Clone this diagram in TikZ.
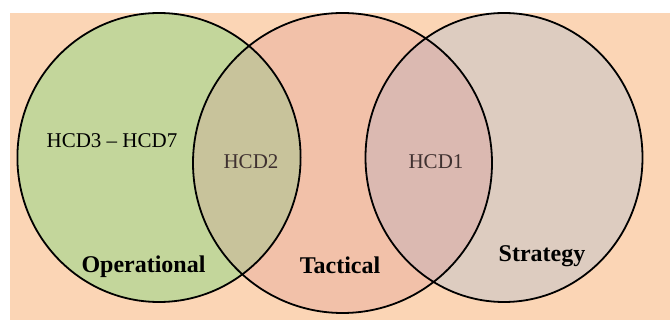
\documentclass[tikz,border=0pt]{standalone}
\usepackage{fontspec}
\setmainfont{Liberation Serif}
\usepackage{xcolor}

\definecolor{peach}{HTML}{FBD5B5}
\definecolor{opgreen}{HTML}{C3D69B}
\definecolor{tacsalmon}{HTML}{F2C1A9}
\definecolor{strtaupe}{HTML}{DDCCC0}
\definecolor{lensop}{HTML}{C8C39B}
\definecolor{lensstr}{HTML}{DBB9B1}
\definecolor{lenstext}{HTML}{3F3130}

\begin{document}
\begin{tikzpicture}[x=0.5pt,y=-0.5pt,
    ring/.style={draw=black,line width=0.9pt},
    area/.style={font=\fontsize{12}{14}\selectfont\bfseries,anchor=base},
    code/.style={font=\fontsize{10.5}{12}\selectfont,anchor=base},
    lens/.style={code,text=lenstext}]
      \useasboundingbox (0,0) rectangle (670,320);
      \fill[peach] (10,13) rectangle (670,320);
      % the three circles
      \coordinate (op) at (159,157.5);
      \coordinate (tac) at (342.5,163);
      \coordinate (str) at (504,157.5);
      \fill[opgreen] (op) ellipse [x radius=141.6, y radius=144.5];
      \fill[tacsalmon] (tac) ellipse [x radius=149.5, y radius=150];
      \fill[strtaupe] (str) ellipse [x radius=138.5, y radius=144.5];
      % overlaps
      \begin{scope}
        \clip (op) ellipse [x radius=141.6, y radius=144.5];
        \fill[lensop] (tac) ellipse [x radius=149.5, y radius=150];
      \end{scope}
      \begin{scope}
        \clip (str) ellipse [x radius=138.5, y radius=144.5];
        \fill[lensstr] (tac) ellipse [x radius=149.5, y radius=150];
      \end{scope}
      \draw[ring] (op) ellipse [x radius=141.6, y radius=144.5];
      \draw[ring] (tac) ellipse [x radius=149.5, y radius=150];
      \draw[ring] (str) ellipse [x radius=138.5, y radius=144.5];
      % labels
      \node (hcdops) [code] at (112,147.3) {HCD3 – HCD7};
      \node (hcdtwo) [lens] at (251,168.3) {HCD2};
      \node (hcdone) [lens] at (436,168.3) {HCD1};
      \node (operational) [area] at (143.5,272.7) {Operational};
      \node (tactical) [area] at (340,274) {Tactical};
      \node (strategy) [area] at (542,261.7) {Strategy};
    \end{tikzpicture}
\end{document}
